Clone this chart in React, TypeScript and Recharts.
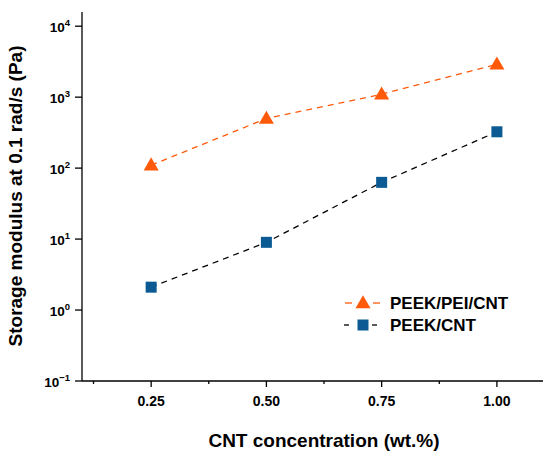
import React from 'react';
import { LineChart, Line, XAxis, YAxis, Label } from 'recharts';

const concentration = [0.25, 0.5, 0.75, 1.0];
const peekPeiCnt = [110, 500, 1100, 2900];
const peekCnt = [2.1, 9.0, 63, 325];
const seriesNames = ['PEEK/PEI/CNT', 'PEEK/CNT'];
const xTicks = [0.125, 0.25, 0.375, 0.5, 0.625, 0.75, 0.875, 1.0];
const xTickLabels: Record<string, string> = { '0.25': '0.25', '0.5': '0.50', '0.75': '0.75', '1': '1.00' };
const yTicks = [0.1, 1, 10, 100, 1000, 10000];
const yExponents = ['\u22121', '0', '1', '2', '3', '4'];

const ORANGE = '#ff5a0a';
const BLUE = '#0b5a94';
const FONT = '"Liberation Sans", Arial, sans-serif';

const data = concentration.map((c, i) => ({ c, pei: peekPeiCnt[i], cnt: peekCnt[i] }));

const Triangle = ({ cx, cy, size = 15 }: { cx: number; cy: number; size?: number }) => {
  const h = size * 0.87;
  return (
    <polygon
      points={`${cx},${cy - h * 0.6} ${cx - size / 2},${cy + h * 0.4} ${cx + size / 2},${cy + h * 0.4}`}
      fill={ORANGE}
    />
  );
};

const Square = ({ cx, cy, size = 11 }: { cx: number; cy: number; size?: number }) => (
  <rect x={cx - size / 2} y={cy - size / 2} width={size} height={size} fill={BLUE} />
);

const XTick = (props: any) => {
  const { x, y, payload } = props;
  const label = xTickLabels[String(payload.value)];
  return (
    <g>
      <line x1={x} y1={y} x2={x} y2={y + (label ? 6 : 3)} stroke="#000" strokeWidth={1.3} />
      {label && (
        <text x={x} y={y + 25} textAnchor="middle" fontFamily={FONT} fontWeight="bold" fontSize={14} fill="#000">
          {label}
        </text>
      )}
    </g>
  );
};

const YTick = (props: any) => {
  const { x, y, index } = props;
  return (
    <g>
      <line x1={x - 7} y1={y} x2={x} y2={y} stroke="#000" strokeWidth={1.3} />
      <text x={x - 12} y={y + 6} textAnchor="end" fontFamily={FONT} fontWeight="bold" fontSize={13.5} fill="#000">
        10
        <tspan dy={-6} fontSize={9.5}>{yExponents[index]}</tspan>
      </text>
    </g>
  );
};

const LegendOverlay = () => (
  <svg width={200} height={50} style={{ position: 'absolute', left: 340, top: 290 }}>
    <g>
      <line x1={5} y1={13} x2={12} y2={13} stroke={ORANGE} strokeWidth={1.3} />
      <line x1={33} y1={13} x2={40} y2={13} stroke={ORANGE} strokeWidth={1.3} />
      <Triangle cx={23} cy={13} />
      <text x={50} y={19} fontFamily={FONT} fontWeight="bold" fontSize={17} fill="#000">{seriesNames[0]}</text>
    </g>
    <g>
      <line x1={4} y1={35} x2={9} y2={35} stroke="#000" strokeWidth={1.3} />
      <line x1={32} y1={35} x2={37} y2={35} stroke="#000" strokeWidth={1.3} />
      <Square cx={23} cy={35} />
      <text x={50} y={41} fontFamily={FONT} fontWeight="bold" fontSize={17} fill="#000">{seriesNames[1]}</text>
    </g>
  </svg>
);

export default function App() {
  return (
    <div style={{ position: 'absolute', left: 0, top: 0, width: 550, height: 460, background: '#fff' }}>
      <LineChart width={550} height={460} data={data} margin={{ top: 12, right: 7, bottom: 0, left: 0 }}>
        <XAxis
          dataKey="c"
          type="number"
          domain={[0.1, 1.1]}
          ticks={xTicks}
          interval={0}
          height={79}
          tickSize={0}
          tickMargin={0}
          tickLine={false}
          tick={<XTick />}
          axisLine={{ stroke: '#000', strokeWidth: 1.3 }}
        >
          <Label
            content={() => (
              <text x={324} y={447} textAnchor="middle" fontFamily={FONT} fontWeight="bold" fontSize={19} fill="#000">
                CNT concentration (wt.%)
              </text>
            )}
          />
        </XAxis>
        <YAxis
          scale="log"
          type="number"
          domain={[0.1, 15849]}
          allowDataOverflow
          ticks={yTicks}
          interval={0}
          width={82}
          tickSize={0}
          tickMargin={0}
          tickLine={false}
          tick={<YTick />}
          axisLine={{ stroke: '#000', strokeWidth: 1.3 }}
        >
          <Label
            content={() => (
              <text
                x={22}
                y={196}
                transform="rotate(-90 22 196)"
                textAnchor="middle"
                fontFamily={FONT}
                fontWeight="bold"
                fontSize={19}
                fill="#000"
              >
                Storage modulus at 0.1 rad/s (Pa)
              </text>
            )}
          />
        </YAxis>
        <Line
          dataKey="pei"
          name={seriesNames[0]}
          stroke={ORANGE}
          strokeWidth={1.3}
          strokeDasharray="6 5"
          isAnimationActive={false}
          dot={(p: any) => <Triangle key={`t${p.index}`} cx={p.cx} cy={p.cy} />}
          activeDot={false}
        />
        <Line
          dataKey="cnt"
          name={seriesNames[1]}
          stroke="#000"
          strokeWidth={1.3}
          strokeDasharray="6 5"
          isAnimationActive={false}
          dot={(p: any) => <Square key={`s${p.index}`} cx={p.cx} cy={p.cy} />}
          activeDot={false}
        />
      </LineChart>
      <LegendOverlay />
    </div>
  );
}
